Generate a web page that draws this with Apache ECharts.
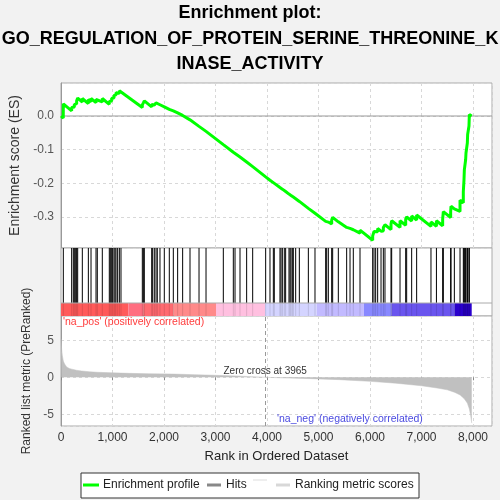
<!DOCTYPE html>
<html><head><meta charset="utf-8">
<style>html,body{margin:0;padding:0;background:#f2f2f2}#c{width:500px;height:500px}</style>
<script src="https://cdn.jsdelivr.net/npm/echarts@6/dist/echarts.min.js"></script>
</head><body><div id="c"></div>
<script>
const titleLines = ["Enrichment plot:", "GO_REGULATION_OF_PROTEIN_SERINE_THREONINE_K", "INASE_ACTIVITY"];
const xMax = 8369;
const zeroCross = 3965;
// Enrichment score profile [rank, ES]
const esPoints = [
[0,0],[44,-0.006],[45,0.036],
[207,0.0154],[207,0.025],[239,0.021],[239,0.029],[259,0.0265],[259,0.034],[285,0.031],[285,0.039],
[304,0.0366],[304,0.045],[324,0.0425],[324,0.053],[414,0.0416],[414,0.052],[531,0.037],[531,0.049],
[583,0.0424],[583,0.052],[680,0.0397],[680,0.049],[705,0.0458],[705,0.054],[802,0.0417],[802,0.052],
[938,0.0347],[938,0.043],[958,0.0405],[958,0.048],[984,0.0447],[984,0.053],[1003,0.0506],[1003,0.057],
[1029,0.0537],[1029,0.061],[1049,0.0585],[1049,0.065],[1068,0.0626],[1068,0.069],[1100,0.0649],[1100,0.072],
[1133,0.0678],[1133,0.075],[1165,0.0709],[1165,0.078],
[1579,0.0254],[1579,0.033],[1599,0.0305],[1599,0.039],[1618,0.0366],[1618,0.045],
[1761,0.0269],[1761,0.034],[1780,0.0316],[1780,0.037],[1812,0.0329],[1812,0.038],[1845,0.0338],[1845,0.039],
[1870,0.0358],[1870,0.040],[1922,0.0334],[1922,0.038],[2006,0.0273],[2006,0.032],[2103,0.0197],[2103,0.025],
[2181,0.0151],[2181,0.020],[2265,0.0093],[2265,0.014],[2362,0.0017],[2362,0.006],[2505,-0.0114],[2505,-0.0095],
[2680,-0.0308],[2680,-0.029],[2816,-0.0456],[2816,-0.044],[3152,-0.085],[3152,-0.084],[3346,-0.1077],[3346,-0.1067],
[3379,-0.1107],[3379,-0.110],[3476,-0.1218],[3476,-0.121],[3605,-0.1367],[3605,-0.136],[3722,-0.1503],[3722,-0.150],
[3974,-0.1807],[3974,-0.1805],[4058,-0.1907],[4058,-0.190],[4123,-0.1979],[4123,-0.1975],[4142,-0.1998],[4142,-0.199],
[4252,-0.2124],[4252,-0.212],[4272,-0.2144],[4272,-0.214],[4298,-0.2172],[4298,-0.217],[4336,-0.2216],[4336,-0.221],
[4362,-0.2242],[4362,-0.224],[4427,-0.2319],[4427,-0.2315],[4447,-0.234],[4447,-0.2335],[4466,-0.2358],[4466,-0.2355],
[4492,-0.2387],[4492,-0.2383],[4511,-0.2406],[4511,-0.240],[4557,-0.2456],[4557,-0.245],[4628,-0.2537],[4628,-0.253],
[4803,-0.2743],[4803,-0.273],[4932,-0.2887],[4932,-0.2875],[5139,-0.3128],[5139,-0.311],[5159,-0.3134],[5159,-0.311],
[5191,-0.315],[5191,-0.313],[5256,-0.3209],[5256,-0.309],[5275,-0.3113],[5275,-0.301],[5385,-0.3144],[5385,-0.311],
[5547,-0.3308],[5547,-0.326],[5612,-0.3339],[5612,-0.330],[5676,-0.3378],[5676,-0.332],[5806,-0.3479],[5806,-0.339],
[6052,-0.369],[6052,-0.356],[6078,-0.3592],[6078,-0.343],[6110,-0.3469],[6110,-0.339],[6149,-0.3438],[6149,-0.334],
[6214,-0.3419],[6214,-0.336],[6259,-0.3415],[6259,-0.331],[6291,-0.3349],[6291,-0.323],[6408,-0.3373],[6408,-0.320],
[6421,-0.3216],[6421,-0.311],[6583,-0.3308],[6583,-0.311],[6693,-0.3244],[6693,-0.306],[6712,-0.3083],[6712,-0.300],
[6809,-0.3118],[6809,-0.297],[6906,-0.3088],[6906,-0.294],[7184,-0.3279],[7184,-0.3145],[7290,-0.3274],[7290,-0.311],
[7411,-0.3258],[7411,-0.306],[7424,-0.3076],[7424,-0.284],[7566,-0.3013],[7566,-0.285],[7573,-0.2859],[7573,-0.268],
[7638,-0.2759],[7638,-0.270],[7748,-0.2834],[7748,-0.250],[7812,-0.2578],[7812,-0.225],[7825,-0.2266],[7825,-0.190],
[7832,-0.1909],[7832,-0.160],[7857,-0.163],[7857,-0.130],[7864,-0.1309],[7864,-0.110],[7890,-0.1132],[7890,-0.080],
[7896,-0.0807],[7896,-0.055],[7922,-0.0582],[7922,-0.030],[7929,-0.0309],[7929,0.004],[7975,0]
];
// Hit positions (rank of gene-set members)
const hits = [45,207,239,259,285,304,324,414,531,583,680,705,802,938,958,984,1003,1029,1049,1068,1100,1133,1165,
1579,1599,1618,1761,1780,1812,1845,1870,1922,2006,2103,2181,2265,2362,2505,2680,2816,3152,3346,3379,3476,3605,3722,
3974,4058,4123,4142,4252,4272,4298,4336,4362,4427,4447,4466,4492,4511,4557,4628,4803,4932,5139,5159,5191,5256,5275,
5385,5547,5612,5676,5806,6052,6078,6110,6149,6214,6259,6291,6408,6421,6583,6693,6712,6809,6906,7184,7290,7411,7424,
7566,7573,7638,7748,7812,7825,7832,7857,7864,7890,7896,7922,7929];
// Ranked list metric [rank, value]
const metricPoints = [[0,5.2],[10,4.0],[25,3.0],[45,2.2],[70,1.8],[110,1.4],[160,1.2],[210,1.1],[300,0.95],[400,0.85],
[550,0.75],[700,0.68],[1000,0.6],[1340,0.53],[1700,0.48],[2200,0.43],[2600,0.35],[3000,0.27],[3400,0.18],[3700,0.08],
[3965,0],[4300,-0.08],[4700,-0.15],[5000,-0.22],[5400,-0.32],[6000,-0.55],[6500,-0.8],[7000,-1.15],[7300,-1.45],
[7500,-1.7],[7650,-2.05],[7750,-2.4],[7830,-2.9],[7890,-3.5],[7930,-4.3],[7955,-5.2],[7975,-6.2]];
// Colour bar segments
const barStart = [0,1307,1598,2181,3010,3961,4965,5883,6421,7650];
const barEnd   = [1307,1598,2181,3010,3961,4965,5883,6421,7650,7975];
const barColors = ['#ff5a5a','#ff6e80','#ff6a70','#ff8a8a','#ffc0e0','#d4d4ff','#c2baff','#8888ff','#6a55ee','#2a00cc'];
const legendItems = ['Enrichment profile','Hits','Ranking metric scores'];
const posLabel = "'na_pos' (positively correlated)";
const negLabel = "'na_neg' (negatively correlated)";

const FONT = 'Liberation Sans, Arial, sans-serif';
const barTop = 0.191;
const chart = echarts.init(document.getElementById('c'), null, {renderer:'canvas'});
const dashed = {show:true, lineStyle:{color:'#d8d8d8', type:[3,3], width:1}};
function xAx(idx, show){
  return {type:'value', gridIndex:idx, min:0, max:xMax, interval:1000,
    splitLine: idx===1 ? {show:false} : dashed,
    axisLine:{show:false}, axisTick:{show:show, length:3, lineStyle:{color:'#888'}},
    axisLabel:{show:show, color:'#333', fontSize:12, margin:6, fontFamily:FONT, showMaxLabel:false,
      formatter: v => v.toLocaleString('en-US')},
    name: show ? 'Rank in Ordered Dataset' : '', nameLocation:'middle', nameGap:24,
    nameTextStyle:{color:'#222', fontSize:13, fontFamily:FONT}};
}
const option = {
  backgroundColor:'#f2f2f2',
  animation:false,
  textStyle:{fontFamily:FONT},
  grid:[
    {left:61, top:83, width:431, height:165, show:true, backgroundColor:'#fff', borderColor:'#aaa'},
    {left:61, top:248, width:431, height:68, show:true, backgroundColor:'#fff', borderColor:'#aaa'},
    {left:61, top:316, width:431, height:110, show:true, backgroundColor:'#fff', borderColor:'#aaa'}
  ],
  xAxis:[xAx(0,false), xAx(1,false), xAx(2,true)],
  yAxis:[
    {type:'value', gridIndex:0, min:-0.392, max:0.098, splitNumber:5,
      splitLine:dashed, axisLine:{show:true, lineStyle:{color:'#999'}}, axisTick:{show:false},
      axisLabel:{color:'#555', fontSize:12, margin:7, showMinLabel:false, showMaxLabel:false,
        formatter: v => v.toFixed(1)},
      name:'Enrichment score (ES)', nameLocation:'middle', nameGap:34,
      nameTextStyle:{color:'#333', fontSize:14, fontFamily:FONT}},
    {type:'value', gridIndex:1, min:0, max:1, show:false},
    {type:'value', gridIndex:2, min:-6.6, max:8.3, splitNumber:3,
      splitLine:dashed, axisLine:{show:true, lineStyle:{color:'#999'}}, axisTick:{show:false},
      axisLabel:{color:'#555', fontSize:12, margin:7, showMinLabel:false, showMaxLabel:false},
      name:'Ranked list metric (PreRanked)', nameLocation:'middle', nameGap:23,
      nameTextStyle:{color:'#333', fontSize:12, fontFamily:FONT}}
  ],
  series:[
    {type:'line', xAxisIndex:0, yAxisIndex:0, data:[[0,0],[xMax,0]], symbol:'none', silent:true, z:1,
      lineStyle:{color:'#999', width:1}},
    {type:'line', xAxisIndex:0, yAxisIndex:0, data:esPoints, symbol:'none', z:3,
      lineStyle:{color:'#00ff00', width:3}},
    {type:'custom', xAxisIndex:1, yAxisIndex:1, data:barStart.map((s,i)=>[s, barEnd[i], i]), z:2,
      renderItem:(p, api) => {
        const a = api.coord([api.value(0), 0]); const b = api.coord([api.value(1), barTop]);
        return {type:'rect', shape:{x:a[0], y:b[1], width:b[0]-a[0], height:a[1]-b[1]},
          style:{fill:barColors[api.value(2)]}};
      }},
    {type:'custom', xAxisIndex:1, yAxisIndex:1, data:hits.map(h=>[h]), z:3,
      renderItem:(p, api) => {
        const t = api.coord([api.value(0), 1]); const m = api.coord([api.value(0), barTop]);
        const b = api.coord([api.value(0), 0]);
        const x = t[0];
        return {type:'group', children:[
          {type:'line', shape:{x1:x, y1:t[1], x2:x, y2:m[1]}, style:{stroke:'#000', lineWidth:1}},
          {type:'line', shape:{x1:x, y1:m[1], x2:x, y2:b[1]}, style:{stroke:'rgba(0,0,0,0.12)', lineWidth:1}}
        ]};
      }},
    {type:'line', xAxisIndex:1, yAxisIndex:1, data:[[0,barTop],[xMax,barTop]], symbol:'none', silent:true, z:4,
      lineStyle:{color:'#aaa', width:1}},
    {type:'line', xAxisIndex:2, yAxisIndex:2, data:metricPoints, symbol:'none', z:2,
      lineStyle:{color:'#c0c0c0', width:0.5}, areaStyle:{color:'#c0c0c0', opacity:1},
      markLine:{silent:true, symbol:['none','none'], label:{show:false},
        lineStyle:{color:'#999', type:[4,3], width:1}, data:[{xAxis:zeroCross}]}}
  ]
};
chart.setOption(option);
const zx = chart.convertToPixel({xAxisIndex:2}, zeroCross);
const lx = 81, ly = 473;
chart.setOption({graphic:[
  {type:'text', style:{text:titleLines[0], x:250, y:13, align:'center', verticalAlign:'middle', font:'bold 18px '+FONT, fill:'#000'}},
  {type:'text', style:{text:titleLines[1], x:250, y:39, align:'center', verticalAlign:'middle', font:'bold 18px '+FONT, fill:'#000'}},
  {type:'text', style:{text:titleLines[2], x:250, y:64, align:'center', verticalAlign:'middle', font:'bold 18px '+FONT, fill:'#000'}},
  {type:'text', z:10, style:{text:posLabel, x:63, y:322, align:'left', verticalAlign:'middle', font:'10.5px '+FONT, fill:'#ff3b3b'}},
  {type:'text', z:10, style:{text:negLabel, x:277, y:419, align:'left', verticalAlign:'middle', font:'10.5px '+FONT, fill:'#4a4ae0'}},
  {type:'text', z:10, style:{text:'Zero cross at ' + zeroCross, x:zx, y:371, align:'center', verticalAlign:'middle', font:'10px '+FONT, fill:'#333'}},
  {type:'rect', shape:{x:lx, y:ly, width:338, height:25}, style:{fill:'#fff', stroke:'#333', lineWidth:1}},
  {type:'line', shape:{x1:83, y1:485, x2:99, y2:485}, style:{stroke:'#00ff00', lineWidth:3}},
  {type:'text', style:{text:legendItems[0], x:103, y:485, align:'left', verticalAlign:'middle', font:'12px '+FONT, fill:'#222'}},
  {type:'line', shape:{x1:207, y1:485, x2:221, y2:485}, style:{stroke:'#888', lineWidth:3}},
  {type:'text', style:{text:legendItems[1], x:226, y:485, align:'left', verticalAlign:'middle', font:'12px '+FONT, fill:'#222'}},
  {type:'line', shape:{x1:253, y1:480, x2:267, y2:480}, style:{stroke:'#eee', lineWidth:2}},
  {type:'line', shape:{x1:276, y1:485, x2:290, y2:485}, style:{stroke:'#d8d8d8', lineWidth:3}},
  {type:'text', style:{text:legendItems[2], x:295, y:485, align:'left', verticalAlign:'middle', font:'12px '+FONT, fill:'#222'}}
]});
</script></body></html>
